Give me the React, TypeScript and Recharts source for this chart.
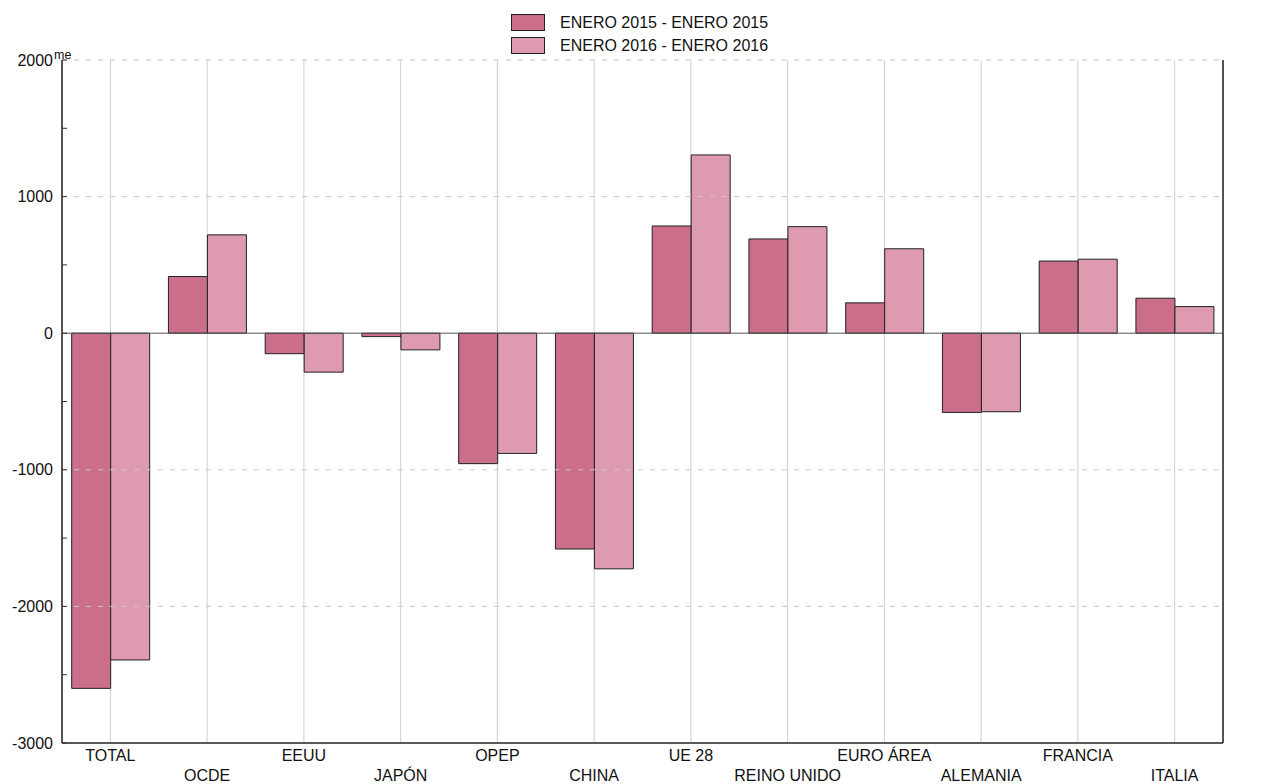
import { Bar, BarChart, CartesianGrid, ReferenceLine, XAxis, YAxis } from "recharts";

const categories = [
	"TOTAL",
	"OCDE",
	"EEUU",
	"JAPÓN",
	"OPEP",
	"CHINA",
	"UE 28",
	"REINO UNIDO",
	"EURO ÁREA",
	"ALEMANIA",
	"FRANCIA",
	"ITALIA",
];
const enero2015 = [-2600, 415, -150, -25, -955, -1580, 785, 690, 222, -580, 528, 256];
const enero2016 = [-2392, 720, -285, -122, -880, -1725, 1305, 780, 618, -575, 542, 195];
const seriesNames = ["ENERO 2015 - ENERO 2015", "ENERO 2016 - ENERO 2016"];
const yTicks = [-3000, -2500, -2000, -1500, -1000, -500, 0, 500, 1000, 1500, 2000];
const dashedLines = [2000, 1000, -1000, -2000];
const unitLabel = "me";

const data = categories.map((name, i) => ({ name, a: enero2015[i], b: enero2016[i] }));

const FONT = "'Liberation Sans', Arial, Helvetica, sans-serif";
const COLOR_2015 = "#CA6E89";
const COLOR_2016 = "#DE9AAE";

function LeftTick(props: any) {
	const { x, y, payload } = props;
	const axisX = x + 9;
	const major = payload.value % 1000 === 0;
	return (
		<g>
			<line x1={axisX} x2={axisX + 5} y1={y} y2={y} stroke="#333" />
			{major && (
				<text x={x} y={y} textAnchor="end" dominantBaseline="central" fontSize={16} fill="#111" fontFamily={FONT}>
					{payload.value}
				</text>
			)}
			{payload.value === 2000 && (
				<text x={axisX - 8} y={y - 1} fontSize={12.5} fill="#111" fontFamily={FONT}>
					{unitLabel}
				</text>
			)}
		</g>
	);
}

function RightTick(props: any) {
	const { x, y, payload } = props;
	const axisX = x - 14;
	const major = payload.value % 1000 === 0;
	return (
		<g>
			<line x1={axisX} x2={axisX - 5} y1={y} y2={y} stroke="#333" />
			{major && (
				<text x={x} y={y} textAnchor="start" dominantBaseline="central" fontSize={16} fill="#111" fontFamily={FONT}>
					{payload.value}
				</text>
			)}
			{payload.value === 2000 && (
				<text x={axisX - 11} y={y - 1} fontSize={12.5} fill="#111" fontFamily={FONT}>
					{unitLabel}
				</text>
			)}
		</g>
	);
}

function XTick(props: any) {
	const { x, y, payload } = props;
	const idx = categories.indexOf(payload.value);
	return (
		<text
			x={x}
			y={y + (idx % 2 === 0 ? 12 : 32)}
			textAnchor="middle"
			dominantBaseline="central"
			fontSize={16}
			fill="#111"
			fontFamily={FONT}
		>
			{payload.value}
		</text>
	);
}

function LegendBox() {
	const colors = [COLOR_2015, COLOR_2016];
	return (
		<div style={{ position: "absolute", left: 511, top: 11, fontFamily: FONT, fontSize: 16, color: "#111" }}>
			{seriesNames.map((n, i) => (
				<div key={n} style={{ display: "flex", alignItems: "center", height: 23 }}>
					<div
						style={{
							width: 32,
							height: 15,
							background: colors[i],
							border: "1px solid #222",
							marginRight: 15,
						}}
					/>
					<span>{n}</span>
				</div>
			))}
		</div>
	);
}

export default function App() {
	return (
		<div style={{ position: "absolute", left: 0, top: 0, width: 1279, height: 784, background: "#fff" }}>
			<BarChart
				width={1279}
				height={784}
				data={data}
				margin={{ top: 60, right: 0, bottom: 0, left: 0 }}
				barCategoryGap="10%"
				barGap={0}
			>
				<CartesianGrid horizontal={false} vertical stroke="#cfcfcf" />
				<XAxis
					dataKey="name"
					height={41}
					tick={<XTick />}
					tickLine={false}
					tickSize={0}
					tickMargin={0}
					interval={0}
					axisLine={{ stroke: "#222", strokeWidth: 1.5 }}
				/>
				<YAxis
					yAxisId="left"
					width={62}
					domain={[-3000, 2000]}
					ticks={yTicks}
					interval={0}
					tick={<LeftTick />}
					tickLine={false}
					tickSize={0}
					tickMargin={9}
					axisLine={{ stroke: "#222", strokeWidth: 1.5 }}
				/>
				<YAxis
					yAxisId="right"
					orientation="right"
					width={56}
					domain={[-3000, 2000]}
					ticks={yTicks}
					interval={0}
					tick={<RightTick />}
					tickLine={false}
					tickSize={0}
					tickMargin={14}
					axisLine={{ stroke: "#222", strokeWidth: 1.5 }}
				/>
				{dashedLines.map((v) => (
					<ReferenceLine key={v} yAxisId="left" y={v} stroke="#c8c8c8" strokeDasharray="5 7" />
				))}
				<ReferenceLine yAxisId="left" y={0} stroke="#555" />
				<Bar
					yAxisId="left"
					dataKey="a"
					name={seriesNames[0]}
					fill={COLOR_2015}
					stroke="#222"
					strokeWidth={1}
					isAnimationActive={false}
				/>
				<Bar
					yAxisId="left"
					dataKey="b"
					name={seriesNames[1]}
					fill={COLOR_2016}
					stroke="#222"
					strokeWidth={1}
					isAnimationActive={false}
				/>
			</BarChart>
			<LegendBox />
		</div>
	);
}
